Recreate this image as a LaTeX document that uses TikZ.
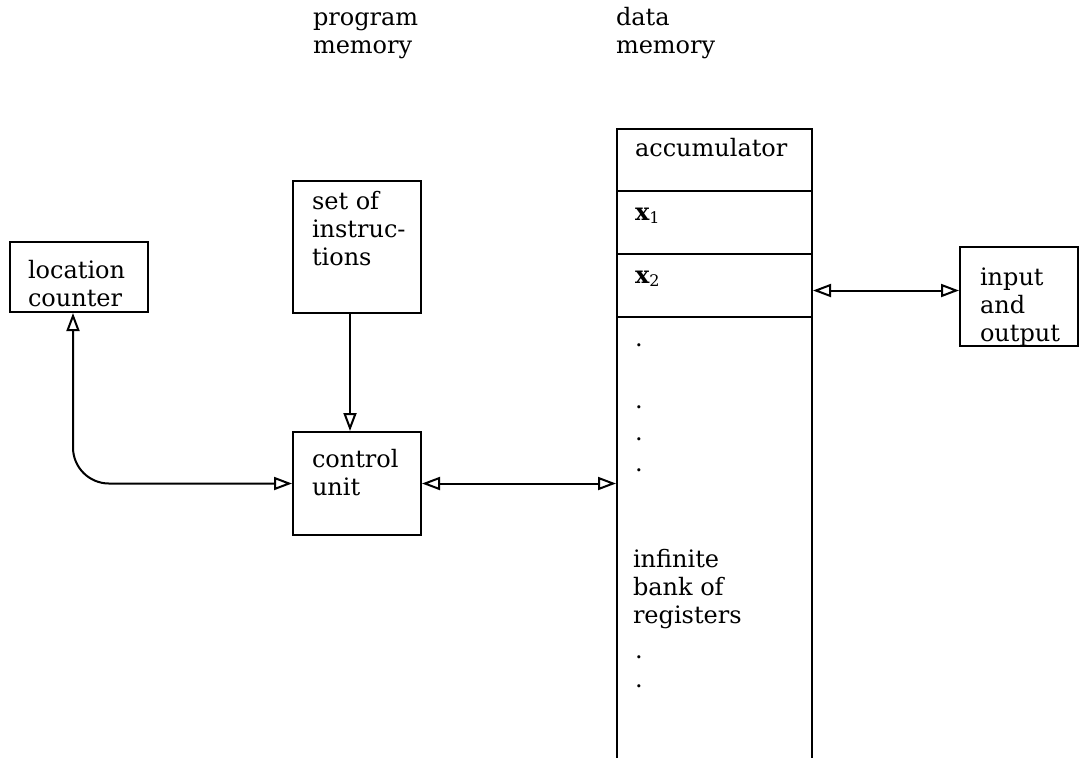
\documentclass[tikz,border=0pt]{standalone}
\usepackage{fontspec}
\setmainfont{DejaVu Serif}
\usetikzlibrary{arrows.meta}

\begin{document}
\begin{tikzpicture}[x=0.5pt,y=-0.5pt,line width=1pt,
    box/.style={draw,inner sep=0pt},
    txt/.style={inner sep=0pt,align=left,anchor=base west,font=\fontsize{12}{14}\selectfont},
    tip/.style={-{Triangle[open,length=9pt,width=6.5pt]}},
    tips/.style={{Triangle[open,length=9pt,width=6.5pt]}-{Triangle[open,length=9pt,width=6.5pt]}}]

            \useasboundingbox (0,0) rectangle (1080,757);
            \clip (0,0) rectangle (1080,757);

            \node[txt] (pmem) at (312,53) {program\\memory};
            \node[txt] (dmem) at (615,53) {data\\memory};

            \node[box,minimum width=69pt,minimum height=35pt] (loc) at (79,277) {};
            \node[box,minimum width=64pt,minimum height=66pt] (instr) at (357,247) {};
            \node[box,minimum width=64pt,minimum height=51.5pt] (ctrl) at (357,483.5) {};
            \node[box,minimum width=59pt,minimum height=49.5pt] (io) at (1019,296.5) {};
            \node[box,minimum width=97.5pt,minimum height=340pt,anchor=north] (data) at (714.5,128) {};

            \foreach \y in {191,254,317}
                \draw (data.west |- 0,\y) -- (data.east |- 0,\y);

            % last lines sit on the base anchor
            \node[txt] (locT) at ([shift={(18,65)}]loc.north west) {location\\counter};
            \node[txt] (instrT) at ([shift={(19,85)}]instr.north west) {set of\\instruc-\\tions};
            \node[txt] (ctrlT) at ([shift={(19,64)}]ctrl.north west) {control\\unit};
            \node[txt] (ioT) at ([shift={(20,95)}]io.north west) {input\\and\\output};

            \node[txt] (acc) at ([shift={(18,28)}]data.north west) {accumulator};
            \node[txt] (xa) at ([shift={(18,92)}]data.north west) {\textbf{x}\textsubscript{1}};
            \node[txt] (xb) at ([shift={(18,155)}]data.north west) {\textbf{x}\textsubscript{2}};
            \node[txt] (bank) at ([shift={(16,495)}]data.north west) {infinite\\bank of\\registers};
            \foreach \y [count=\i] in {218,280,312,343,530,559}
                \node[txt] (dot\i) at ([shift={(18,\y)}]data.north west) {.};

            \coordinate (iow) at ([yshift=3pt]io.west);

            \draw[tip] ([xshift=-3.5pt]instr.south) -- ([xshift=-3.5pt]ctrl.north);
            \draw[tips,rounded corners=18pt] ([xshift=-3pt]loc.south) |- (ctrl.west);
            \draw[tips] (ctrl.east) -- (ctrl.east -| data.west);
            \draw[tips] (data.east |- iow) -- (iow);
        \end{tikzpicture}
\end{document}
